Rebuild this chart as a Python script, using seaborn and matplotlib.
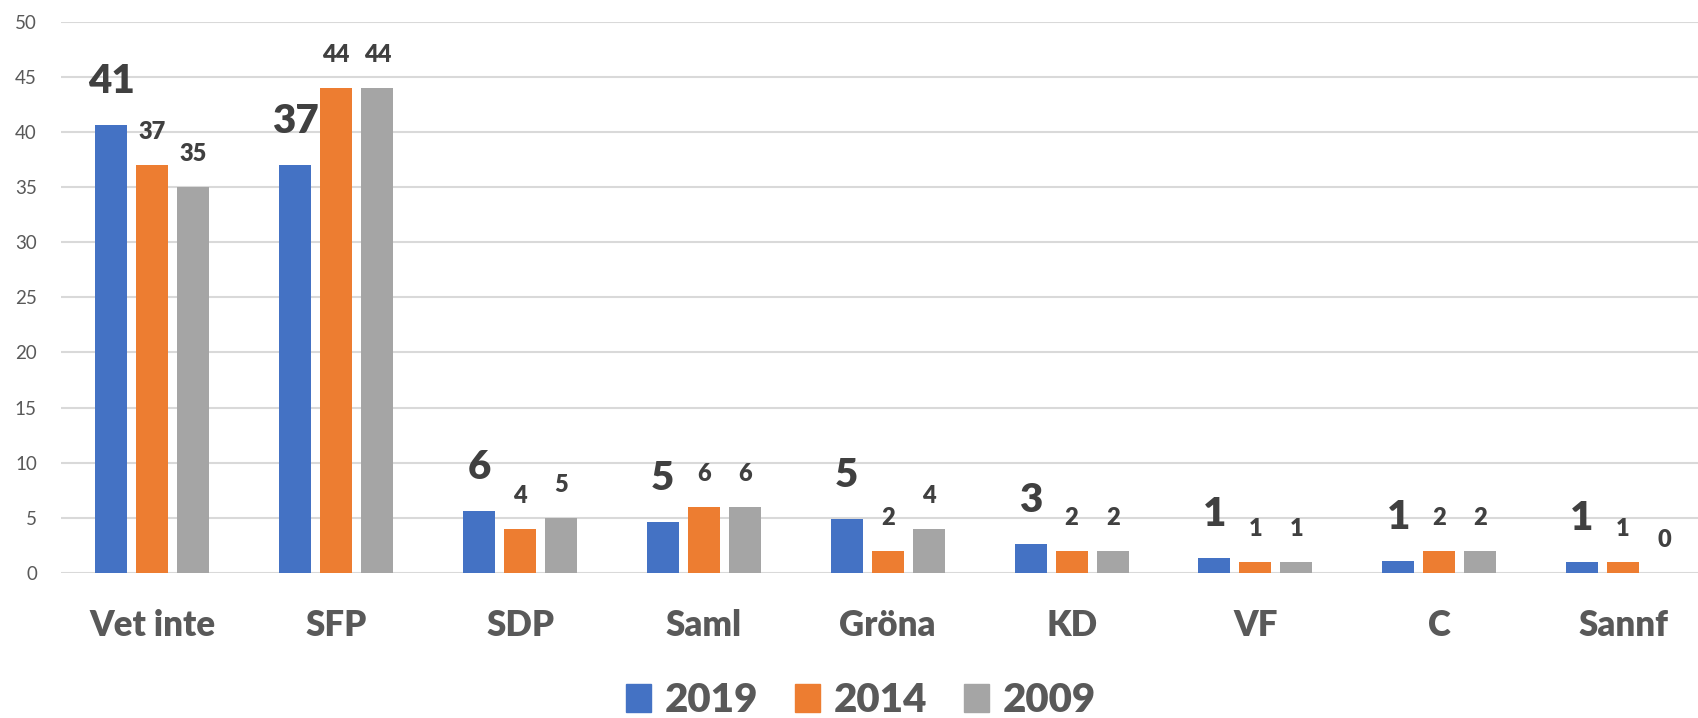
import pandas as pd
import seaborn as sns
import matplotlib.pyplot as plt

# data
parties = ['Vet inte', 'SFP', 'SDP', 'Saml', 'Gröna', 'KD', 'VF', 'C', 'Sannf']
years = ['2019', '2014', '2009']
v2019 = [40.6, 37.0, 5.6, 4.6, 4.9, 2.6, 1.4, 1.1, 1.0]
v2014 = [37, 44, 4, 6, 2, 2, 1, 2, 1]
v2009 = [35, 44, 5, 6, 4, 2, 1, 2, 0]
colors = ['#4472C4', '#ED7D31', '#A5A5A5']

df = pd.DataFrame({
    'party': parties * 3,
    'year': [y for y in years for _ in parties],
    'value': v2019 + v2014 + v2009,
})

sns.set_style('white')
plt.rcParams['font.family'] = ['Lato', 'DejaVu Sans']

fig = plt.figure(figsize=(16.98, 7.18), dpi=100)
ax = fig.add_axes([60.5 / 1698, 1 - 573 / 718, (1715 - 60.5) / 1698, (573 - 21.7) / 718])

sns.barplot(data=df, x='party', y='value', hue='year', hue_order=years,
            palette=colors, saturation=1, width=0.67, gap=0.22,
            linewidth=0, ax=ax, legend=False)

# value labels: 2019 big, others smaller
for i, cont in enumerate(ax.containers):
    vals = [v2019, v2014, v2009][i]
    labs = ['%.0f' % v for v in vals]
    if i == 0:
        ax.bar_label(cont, labels=labs, padding=18, fontsize=29, fontweight='heavy', color='#404040')
    else:
        ax.bar_label(cont, labels=labs, padding=16, fontsize=17, fontweight='heavy', color='#404040')

ax.set_ylim(0, 50)
ax.set_yticks(range(0, 51, 5))
ax.set_xlim(-0.5, len(parties) - 0.5)
ax.yaxis.grid(True, color='#d9d9d9', linewidth=1.5)
ax.set_axisbelow(True)
for s in ax.spines.values():
    s.set_visible(False)
ax.tick_params(axis='y', length=0, pad=17, labelsize=13.5, labelcolor='#595959')
ax.tick_params(axis='x', length=0, pad=26, labelsize=25, labelcolor='#595959')
for t in ax.get_xticklabels():
    t.set_fontweight('heavy')
ax.set_xlabel('')
ax.set_ylabel('')

handles = [plt.Rectangle((0, 0), 1, 1, color=c) for c in colors]
leg = fig.legend(handles, years, loc='center', bbox_to_anchor=(861 / 1698, 0.024),
                 ncol=3, frameon=False, prop={'size': 29, 'weight': 'heavy'},
                 handlelength=0.62, handleheight=0.7, handletextpad=0.35,
                 columnspacing=0.9)
for t in leg.get_texts():
    t.set_color('#595959')

fig.savefig('out.png', dpi=100)
